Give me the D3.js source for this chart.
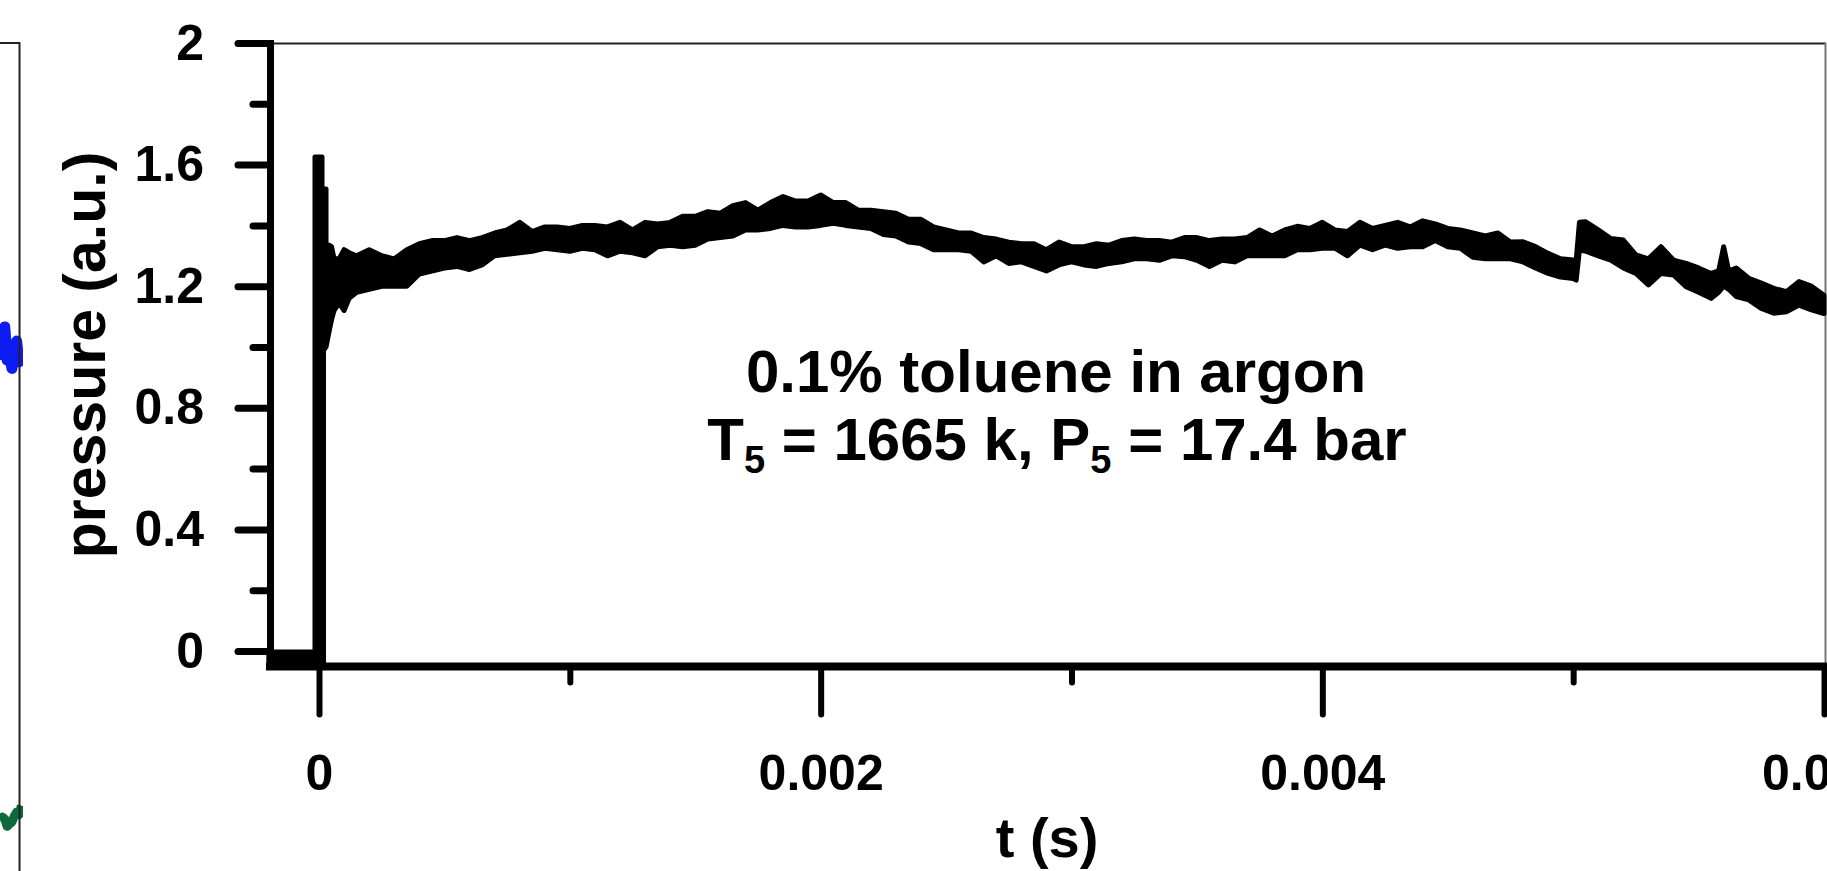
<!DOCTYPE html>
<html>
<head>
<meta charset="utf-8">
<script src="https://cdnjs.cloudflare.com/ajax/libs/d3/7.8.5/d3.min.js"></script>
<style>
  body { margin: 0; background: #fff; overflow: hidden; }
  .chart text { font-family: "Liberation Sans", Arial, sans-serif; font-weight: bold; fill: #000; }
</style>
</head>
<body>
<div class="chart"></div>
<script>
var traceTime = [-0.0002, -0.000016, -0.000016, 0.000012, 0.000012, 0.000018, 0.000018, 0.000028, 0.000028, 0.00004,
  0.00005, 0.00006, 0.00008, 0.0001, 0.00012, 0.00015, 0.0002, 0.00025, 0.0003, 0.00035,
  0.0004, 0.00045, 0.0005, 0.00055, 0.0006, 0.00065, 0.0007, 0.00075, 0.0008, 0.00085,
  0.0009, 0.00095, 0.001, 0.00105, 0.0011, 0.00115, 0.0012, 0.00125, 0.0013, 0.00135,
  0.0014, 0.00145, 0.0015, 0.00155, 0.0016, 0.00165, 0.0017, 0.00175, 0.0018, 0.00185,
  0.0019, 0.00195, 0.002, 0.00205, 0.0021, 0.00215, 0.0022, 0.00225, 0.0023, 0.00235,
  0.0024, 0.00245, 0.0025, 0.00255, 0.0026, 0.00265, 0.0027, 0.00275, 0.0028, 0.00285,
  0.0029, 0.00295, 0.003, 0.00305, 0.0031, 0.00315, 0.0032, 0.00325, 0.0033, 0.00335,
  0.0034, 0.00345, 0.0035, 0.00355, 0.0036, 0.00365, 0.0037, 0.00375, 0.0038, 0.00385,
  0.0039, 0.00395, 0.004, 0.00405, 0.0041, 0.00415, 0.0042, 0.00425, 0.0043, 0.00435,
  0.0044, 0.00445, 0.0045, 0.00455, 0.0046, 0.00465, 0.0047, 0.00475, 0.0048, 0.00485,
  0.0049, 0.00495, 0.005, 0.005012, 0.005025, 0.00505, 0.0051, 0.00515, 0.0052, 0.00525,
  0.0053, 0.00535, 0.0054, 0.00545, 0.0055, 0.00555, 0.00558, 0.0056, 0.00562, 0.00565,
  0.0057, 0.00575, 0.0058, 0.00585, 0.0059, 0.00595, 0.006];

var traceUpper = [-0.003, -0.003, 1.625, 1.625, 1.52, 1.52, 1.52, 1.52, 1.335, 1.335,
  1.33, 1.29, 1.29, 1.32, 1.31, 1.30, 1.32, 1.30, 1.29, 1.32,
  1.34, 1.35, 1.35, 1.36, 1.35, 1.36, 1.375, 1.385, 1.41, 1.38,
  1.395, 1.395, 1.39, 1.40, 1.40, 1.395, 1.41, 1.385, 1.41, 1.405,
  1.41, 1.43, 1.43, 1.445, 1.44, 1.465, 1.475, 1.45, 1.475, 1.495,
  1.48, 1.48, 1.50, 1.475, 1.475, 1.45, 1.45, 1.445, 1.44, 1.42,
  1.42, 1.395, 1.385, 1.375, 1.375, 1.36, 1.355, 1.345, 1.34, 1.34,
  1.32, 1.345, 1.33, 1.33, 1.34, 1.335, 1.35, 1.355, 1.35, 1.35,
  1.345, 1.36, 1.36, 1.35, 1.355, 1.355, 1.36, 1.385, 1.365, 1.385,
  1.397, 1.39, 1.41, 1.385, 1.38, 1.41, 1.39, 1.40, 1.41, 1.395,
  1.415, 1.405, 1.39, 1.385, 1.375, 1.365, 1.375, 1.345, 1.346, 1.33,
  1.308, 1.29, 1.286, 1.285, 1.41, 1.412, 1.385, 1.357, 1.352, 1.303,
  1.29, 1.33, 1.286, 1.275, 1.26, 1.242, 1.25, 1.33, 1.25, 1.26,
  1.226, 1.21, 1.193, 1.182, 1.215, 1.2, 1.17];

var traceLower = [-0.045, -0.045, -0.045, -0.045, -0.045, -0.045, 0.99, 1.0, 1.0, 1.05,
  1.09, 1.12, 1.145, 1.12, 1.16, 1.18, 1.19, 1.20, 1.20, 1.20,
  1.24, 1.25, 1.26, 1.265, 1.255, 1.27, 1.30, 1.305, 1.31, 1.315,
  1.325, 1.32, 1.315, 1.325, 1.32, 1.30, 1.315, 1.31, 1.30, 1.33,
  1.335, 1.33, 1.335, 1.355, 1.36, 1.365, 1.385, 1.385, 1.39, 1.40,
  1.395, 1.395, 1.40, 1.407, 1.40, 1.395, 1.39, 1.37, 1.365, 1.345,
  1.34, 1.32, 1.32, 1.32, 1.315, 1.28, 1.30, 1.275, 1.28, 1.265,
  1.25, 1.27, 1.28, 1.27, 1.265, 1.275, 1.28, 1.29, 1.29, 1.285,
  1.30, 1.297, 1.285, 1.265, 1.285, 1.28, 1.30, 1.30, 1.30, 1.30,
  1.32, 1.32, 1.325, 1.325, 1.30, 1.335, 1.32, 1.335, 1.325, 1.33,
  1.33, 1.35, 1.33, 1.325, 1.295, 1.29, 1.29, 1.29, 1.28, 1.26,
  1.242, 1.23, 1.225, 1.22, 1.32, 1.315, 1.30, 1.286, 1.26, 1.242,
  1.204, 1.242, 1.237, 1.198, 1.18, 1.16, 1.18, 1.20, 1.19, 1.166,
  1.155, 1.127, 1.111, 1.116, 1.138, 1.122, 1.11];

// axis ticks
var yMajorTicks = [0, 0.4, 0.8, 1.2, 1.6, 2];
var yTickLabels = ["0", "0.4", "0.8", "1.2", "1.6", "2"];
var yMinorTicks = [0.2, 0.6, 1.0, 1.4, 1.8];
var xMajorTicks = [0, 0.002, 0.004, 0.006];
var xTickLabels = ["0", "0.002", "0.004", "0.006"];
var xMinorTicks = [0.001, 0.003, 0.005];

// the cut-off edge of the neighbouring panel on the left
var sideTime = [0.00592, 0.00593, 0.00594, 0.00595, 0.00596, 0.00597, 0.00598, 0.00599, 0.006, 0.00601];
var sideBlue = [0.617, 0.637, 0.657, 0.617, 0.625, 0.607, 0.622, 0.640, 0.615, 0.632];
var sideGreen = [0.062, 0.065, 0.063, 0.054, 0.057, 0.059, 0.066, 0.071, 0.068, 0.079];

var svgWidth = 1827;
var svgHeight = 871;
var plot = { left: 270, top: 43, right: 1826, bottom: 666.5 };

var svg = d3.select(".chart")
  .append("svg")
  .attr("width", svgWidth)
  .attr("height", svgHeight);

// scales
var xScale = d3.scaleLinear().domain([0, 0.006]).range([319, 1824]);
var yScale = d3.scaleLinear().domain([0, 2]).range([651, 43]);

// neighbouring panel fragment
var sideX = d3.scaleLinear().domain([0.00592, 0.006]).range([0, 19]);
var sideY = d3.scaleLinear().domain([0, 1]).range([871, 43]);

svg.append("clipPath").attr("id", "sideClip")
  .append("rect").attr("x", 0).attr("y", 0).attr("width", 23).attr("height", svgHeight);

var side = svg.append("g").attr("clip-path", "url(#sideClip)");
var sideLine = d3.line()
  .x(function(d) { return sideX(d[0]); })
  .y(function(d) { return sideY(d[1]); });

side.append("path")
  .datum(d3.zip(sideTime, sideBlue))
  .attr("d", sideLine)
  .attr("fill", "none")
  .attr("stroke", "#0d1cf2")
  .attr("stroke-width", 11)
  .attr("stroke-linejoin", "round");

side.append("path")
  .datum(d3.zip(sideTime, sideGreen))
  .attr("d", sideLine)
  .attr("fill", "none")
  .attr("stroke", "#0e6a3a")
  .attr("stroke-width", 9)
  .attr("stroke-linejoin", "round");

svg.append("path")
  .attr("d", "M0," + plot.top + "H19.5V" + svgHeight)
  .attr("fill", "none")
  .attr("stroke", "#222")
  .attr("stroke-width", 2);

// frame top and right
svg.append("line")
  .attr("x1", plot.left).attr("x2", plot.right)
  .attr("y1", plot.top + 0.5).attr("y2", plot.top + 0.5)
  .attr("stroke", "#222").attr("stroke-width", 2);

svg.append("line")
  .attr("x1", plot.right - 0.5).attr("x2", plot.right - 0.5)
  .attr("y1", plot.top).attr("y2", plot.bottom)
  .attr("stroke", "#777").attr("stroke-width", 2);

// the trace as a filled band between its edges
var traceData = traceTime.map(function(t, i) {
  return { t: t, hi: traceUpper[i], lo: traceLower[i] };
});

var band = d3.area()
  .x(function(d) { return xScale(d.t); })
  .y0(function(d) { return yScale(d.lo); })
  .y1(function(d) { return yScale(d.hi); });

svg.append("path")
  .datum(traceData)
  .attr("d", band)
  .attr("fill", "#000")
  .attr("stroke", "#000")
  .attr("stroke-width", 5)
  .attr("stroke-linejoin", "round");

// y axis
var yAxis = svg.append("g")
  .attr("transform", "translate(" + plot.left + ",0)")
  .call(d3.axisLeft(yScale)
    .tickValues(yMajorTicks)
    .tickSize(32)
    .tickPadding(34)
    .tickFormat(function(d, i) { return yTickLabels[i]; }));

var yMinor = svg.append("g")
  .attr("transform", "translate(" + plot.left + ",0)")
  .call(d3.axisLeft(yScale).tickValues(yMinorTicks).tickSize(17).tickFormat(""));

// x axis
var xAxis = svg.append("g")
  .attr("transform", "translate(0," + plot.bottom + ")")
  .call(d3.axisBottom(xScale)
    .tickValues(xMajorTicks)
    .tickSize(48)
    .tickPadding(40)
    .tickFormat(function(d, i) { return xTickLabels[i]; }));

var xMinor = svg.append("g")
  .attr("transform", "translate(0," + plot.bottom + ")")
  .call(d3.axisBottom(xScale).tickValues(xMinorTicks).tickSize(16).tickFormat(""));

svg.selectAll(".domain").remove();
yAxis.selectAll(".tick line").attr("stroke-width", 7).attr("stroke-linecap", "round");
yMinor.selectAll(".tick line").attr("stroke-width", 7).attr("stroke-linecap", "round");
xAxis.selectAll(".tick line").attr("stroke-width", 6).attr("stroke-linecap", "round");
xMinor.selectAll(".tick line").attr("stroke-width", 6).attr("stroke-linecap", "round");
svg.selectAll(".tick text")
  .attr("font-family", null)
  .style("font-size", "50px")
  .style("font-family", "'Liberation Sans', Arial, sans-serif")
  .style("font-weight", "bold");

// thick axis lines on top of the ticks
svg.append("line")
  .attr("x1", plot.left + 0.5).attr("x2", plot.left + 0.5)
  .attr("y1", 40).attr("y2", 670)
  .attr("stroke", "#000").attr("stroke-width", 7);

svg.append("line")
  .attr("x1", 266).attr("x2", svgWidth)
  .attr("y1", plot.bottom).attr("y2", plot.bottom)
  .attr("stroke", "#000").attr("stroke-width", 8);

// axis titles
svg.append("text")
  .attr("transform", "translate(105,355) rotate(-90)")
  .style("text-anchor", "middle")
  .style("font-size", "59px")
  .text("pressure (a.u.)");

svg.append("text")
  .attr("x", 1047)
  .attr("y", 857)
  .style("text-anchor", "middle")
  .style("font-size", "56px")
  .text("t (s)");

// annotation
svg.append("text")
  .attr("x", 1056)
  .attr("y", 392)
  .style("text-anchor", "middle")
  .style("font-size", "60px")
  .text("0.1% toluene in argon");

var note = svg.append("text")
  .attr("x", 1057)
  .attr("y", 460)
  .style("text-anchor", "middle")
  .style("font-size", "60px");
note.append("tspan").text("T");
note.append("tspan").attr("dy", 13).style("font-size", "38px").text("5");
note.append("tspan").attr("dy", -13).text(" = 1665 k, P");
note.append("tspan").attr("dy", 13).style("font-size", "38px").text("5");
note.append("tspan").attr("dy", -13).text(" = 17.4 bar");
</script>
</body>
</html>
